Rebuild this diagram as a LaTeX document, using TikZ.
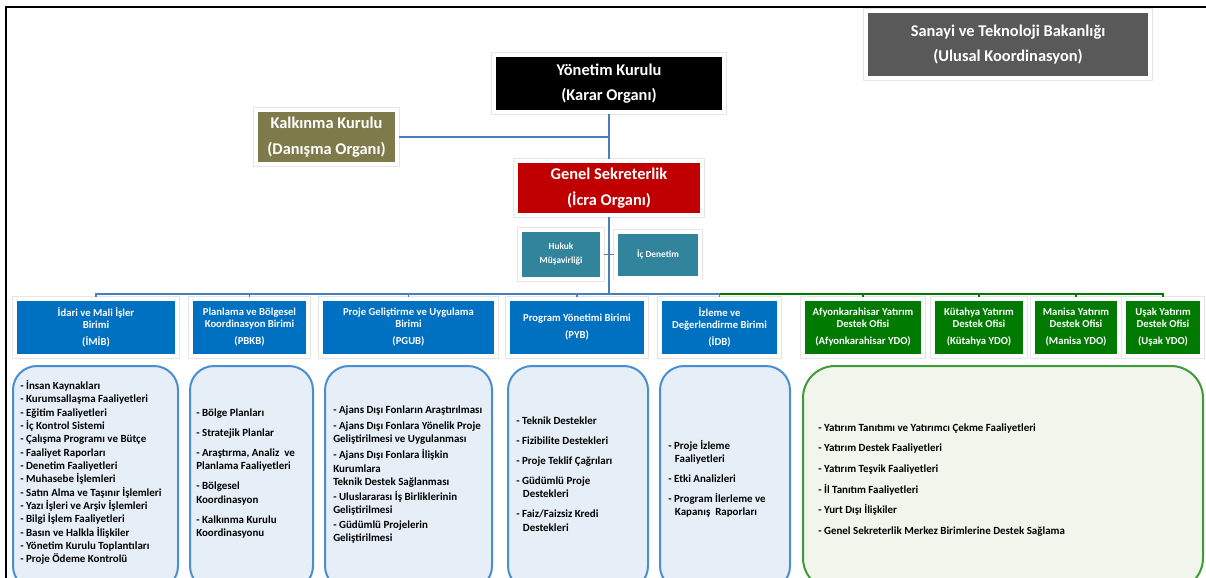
\documentclass[tikz,border=0pt]{standalone}
\usepackage{fontspec}
\setmainfont{Carlito}
\definecolor{bakgray}{HTML}{595959}
\definecolor{kurolive}{HTML}{7F7A4A}
\definecolor{sekred}{HTML}{C00000}
\definecolor{destek}{HTML}{31849B}
\definecolor{birimblue}{HTML}{0070C0}
\definecolor{ydogreen}{HTML}{007A00}
\definecolor{connblue}{HTML}{4A7EBB}
\definecolor{listfill}{HTML}{E6EEF8}
\definecolor{listdraw}{HTML}{4A8ED0}
\definecolor{ydofill}{HTML}{F2F5EC}
\definecolor{ydodraw}{HTML}{3F9B35}
\begin{document}
\begin{tikzpicture}[x=0.75pt,y=-0.75pt,
  org/.style={draw=white,line width=3pt,preaction={draw=black!10,line width=4pt},
    text=white,align=center,inner sep=0pt},
  sz/.style 2 args={minimum width=#1*0.75pt+3pt,minimum height=#2*0.75pt+3pt},
  ls/.style 2 args={minimum width=#1*0.75pt,minimum height=#2*0.75pt},
  big/.style={org,font=\bfseries\fontsize{12.3}{19}\selectfont},
  small/.style={org,fill=destek,font=\bfseries\fontsize{7}{10.5}\selectfont},
  unit/.style={org,fill=birimblue,font=\bfseries\fontsize{8}{9}\selectfont},
  ydo/.style={unit,fill=ydogreen},
  liste/.style={draw=listdraw,fill=listfill,line width=1.5pt,rounded corners=18pt,inner sep=0pt},
  ydoliste/.style={liste,draw=ydodraw,fill=ydofill,rounded corners=24pt},
  items/.style={anchor=west,align=left,inner sep=0pt,font=\bfseries\fontsize{8.2}{10}\selectfont},
  conn/.style={draw=connblue,line width=1.4pt},
  gconn/.style={draw=ydogreen,line width=1.4pt}]
\clip (0,0) rectangle (1206,578);
\fill[white] (0,0) rectangle (1206,578);
\draw[line width=1.6pt] (6,578) -- (6,7) -- (1206,7);

\node[big,fill=bakgray,sz={280}{63}] (bakanlik) at (1008,44.5) {Sanayi ve Teknoloji Bakanlığı\\(Ulusal Koordinasyon)};
\node[big,fill=black,sz={226}{53}] (yonetim) at (609,83.5) {Yönetim Kurulu\\(Karar Organı)};
\node[big,fill=kurolive,sz={137}{50}] (kalkinma) at (326.5,137) {Kalkınma Kurulu\\(Danışma Organı)};
\node[big,fill=sekred,sz={182}{50}] (genel) at (609,188) {Genel Sekreterlik\\(İcra Organı)};
\node[small,sz={78}{45}] (hukuk) at (561,254.5) {Hukuk\\Müşavirliği};
\node[small,sz={80}{42}] (icdenetim) at (658,254.5) {İç Denetim};

\node[unit,sz={158}{53}] (imib) at (96,327.5) {İdari ve Mali İşler\\Birimi\\[3.75pt](İMİB)};
\node[unit,sz={113}{53}] (pbkb) at (249.5,327.5) {Planlama ve Bölgesel\\Koordinasyon Birimi\\[3.75pt](PBKB)};
\node[unit,sz={171}{53}] (pgub) at (408.5,327.5) {Proje Geliştirme ve Uygulama\\Birimi\\[3.75pt](PGUB)};
\node[unit,sz={134}{53}] (pyb) at (577,327.5) {Program Yönetimi Birimi\\[3.75pt](PYB)};
\node[unit,sz={115}{53}] (idb) at (719.5,327.5) {İzleme ve\\Değerlendirme Birimi\\[3.75pt](İDB)};
\node[ydo,sz={116}{53}] (afyon) at (863,327.5) {Afyonkarahisar Yatırım\\Destek Ofisi\\[3.75pt](Afyonkarahisar YDO)};
\node[ydo,sz={88}{53}] (kutahya) at (979,327.5) {Kütahya Yatırım\\Destek Ofisi\\[3.75pt](Kütahya YDO)};
\node[ydo,sz={82}{53}] (manisa) at (1076,327.5) {Manisa Yatırım\\Destek Ofisi\\[3.75pt](Manisa YDO)};
\node[ydo,sz={74}{53}] (usak) at (1163,327.5) {Uşak Yatırım\\Destek Ofisi\\[3.75pt](Uşak YDO)};

\coordinate (bus) at (609,294);
\draw[conn] (yonetim.south) -- (genel.north);
\draw[conn] (kalkinma.east) -- (kalkinma.east -| yonetim.south);
\draw[conn] (genel.south) -- (bus);
\draw[conn] (hukuk.east) -- (icdenetim.west);
\draw[conn] (imib.north) -- (imib.north |- bus) -- (idb.north |- bus) -- (idb.north);
\foreach \u in {pbkb,pgub,pyb}
  \draw[conn] (\u.north) -- (\u.north |- bus);
\draw[gconn] (idb.north |- bus) -- (usak.north |- bus) -- (usak.north);
\foreach \u in {afyon,kutahya,manisa}
  \draw[gconn] (\u.north) -- (\u.north |- bus);

\node[liste,ls={165}{224}] (imibKutu) at (95.5,478) {};
\node[liste,ls={123}{224}] (pbkbKutu) at (251.5,478) {};
\node[liste,ls={167}{224}] (pgubKutu) at (408.5,478) {};
\node[liste,ls={140}{224}] (pybKutu) at (578,478) {};
\node[liste,ls={130}{224}] (idbKutu) at (725,478) {};
\node[ydoliste,ls={400}{224}] (ydoKutu) at (1003,478) {};

\node[items] (imibIs) at (20,472.5) {- İnsan Kaynakları\\- Kurumsallaşma Faaliyetleri\\- Eğitim Faaliyetleri\\- İç Kontrol Sistemi\\- Çalışma Programı ve Bütçe\\- Faaliyet Raporları\\- Denetim Faaliyetleri\\- Muhasebe İşlemleri\\- Satın Alma ve Taşınır İşlemleri\\- Yazı İşleri ve Arşiv İşlemleri\\- Bilgi İşlem Faaliyetleri\\- Basın ve Halkla İlişkiler\\- Yönetim Kurulu Toplantıları\\- Proje Ödeme Kontrolü};
\node[items] (pbkbIs) at (196,473.5) {- Bölge Planları\\[5pt]- Stratejik Planlar\\[5pt]- Araştırma, Analiz\ \ ve\\Planlama Faaliyetleri\\[5pt]- Bölgesel\\Koordinasyon\\[5pt]- Kalkınma Kurulu\\Koordinasyonu};
\node[items] (pgubIs) at (333,474.5) {- Ajans Dışı Fonların Araştırılması\\[2pt]- Ajans Dışı Fonlara Yönelik Proje\\Geliştirilmesi ve Uygulanması\\[2pt]- Ajans Dışı Fonlara İlişkin\\Kurumlara\\Teknik Destek Sağlanması\\[1pt]- Uluslararası İş Birliklerinin\\Geliştirilmesi\\[1pt]- Güdümlü Projelerin\\Geliştirilmesi};
\node[items] (pybIs) at (516,474) {- Teknik Destekler\\[5pt]- Fizibilite Destekleri\\[5pt]- Proje Teklif Çağrıları\\[5pt]- Güdümlü Proje\\\hspace*{5pt}Destekleri\\[5pt]- Faiz/Faizsiz Kredi\\\hspace*{5pt}Destekleri};
\node[items] (idbIs) at (668,479) {- Proje İzleme\\\hspace*{5pt}Faaliyetleri\\[5pt]- Etki Analizleri\\[5pt]- Program İlerleme ve\\\hspace*{5pt}Kapanış\ \ Raporları};
\node[items] (ydoIs) at (818,480) {- Yatırım Tanıtımı ve Yatırımcı Çekme Faaliyetleri\\[5.5pt]- Yatırım Destek Faaliyetleri\\[5.5pt]- Yatırım Teşvik Faaliyetleri\\[5.5pt]- İl Tanıtım Faaliyetleri\\[5.5pt]- Yurt Dışı İlişkiler\\[5.5pt]- Genel Sekreterlik Merkez Birimlerine Destek Sağlama};
\end{tikzpicture}
\end{document}
